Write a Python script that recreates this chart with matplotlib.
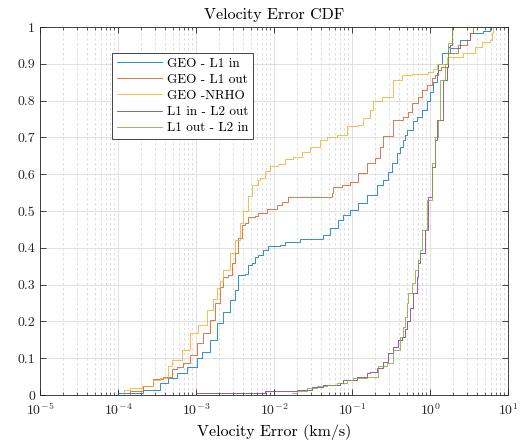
import matplotlib
matplotlib.use("Agg")
import matplotlib.pyplot as plt
from matplotlib.ticker import LogLocator, MultipleLocator

labels = ["GEO - L1 in", "GEO - L1 out", "GEO -NRHO", "L1 in - L2 out", "L1 out - L2 in"]

geo_l1in_x = [9.7e-5, 1.0e-4, 2.09e-4, 3.45e-4, 4.38e-4, 5.70e-4, 7.67e-4, 1.03e-3, 1.19e-3,
              1.51e-3, 1.86e-3, 2.22e-3, 2.73e-3, 3.16e-3, 3.45e-3, 4.25e-3, 4.65e-3, 5.22e-3,
              5.71e-3, 6.24e-3, 7.23e-3, 8.38e-3, 1.19e-2, 1.38e-2, 2.15e-2, 4.25e-2, 5.22e-2,
              6.62e-2, 7.67e-2, 9.42e-2, 0.119, 0.156, 0.209, 0.250, 0.290, 0.326, 0.378,
              0.412, 0.451, 0.478, 0.507, 0.605, 0.681, 0.789, 0.915, 1.0, 1.09, 1.23, 1.27,
              1.43, 1.80, 2.42, 3.26, 4.78, 5.87]
geo_l1in_y = [0.0, 0.005, 0.013, 0.033, 0.046, 0.060, 0.076, 0.100, 0.117,
              0.150, 0.196, 0.226, 0.258, 0.285, 0.326, 0.330, 0.353, 0.360,
              0.375, 0.380, 0.394, 0.405, 0.408, 0.416, 0.424, 0.435, 0.454,
              0.476, 0.489, 0.503, 0.522, 0.543, 0.571, 0.584, 0.606, 0.630, 0.658,
              0.674, 0.693, 0.707, 0.720, 0.745, 0.755, 0.774, 0.800, 0.823, 0.850, 0.875, 0.900,
              0.930, 0.943, 0.965, 0.984, 0.990, 1.0]

geo_l1out_x = [1.12e-4, 1.43e-4, 2.09e-4, 2.81e-4, 3.78e-4, 4.92e-4, 5.70e-4, 6.81e-4, 8.38e-4,
               1.03e-3, 1.23e-3, 1.51e-3, 1.75e-3, 2.03e-3, 2.22e-3, 2.57e-3, 2.90e-3, 3.16e-3,
               3.45e-3, 3.89e-3, 4.25e-3, 4.65e-3, 5.71e-3, 6.24e-3, 8.13e-3, 1.09e-2, 1.27e-2,
               1.51e-2, 5.54e-2, 5.71e-2, 7.45e-2, 9.42e-2, 0.119, 0.156, 0.197, 0.229, 0.250,
               0.336, 0.451, 0.522, 0.588, 0.702, 0.789, 0.915, 1.06, 1.16, 1.27, 1.40, 1.70,
               2.29, 2.98, 3.26, 3.56]
geo_l1out_y = [0.0, 0.010, 0.024, 0.043, 0.049, 0.070, 0.076, 0.087, 0.109,
               0.140, 0.168, 0.204, 0.250, 0.293, 0.320, 0.326, 0.360, 0.385,
               0.427, 0.462, 0.467, 0.484, 0.486, 0.494, 0.505, 0.516, 0.525,
               0.537, 0.549, 0.566, 0.570, 0.579, 0.603, 0.630, 0.644, 0.674, 0.705,
               0.747, 0.755, 0.769, 0.793, 0.810, 0.829, 0.842, 0.861, 0.870, 0.883, 0.890, 0.930,
               0.950, 0.965, 0.984, 1.0]

geo_nrho_x = [1.05e-4, 1.2e-4, 1.43e-4, 2.01e-4, 2.81e-4, 3.45e-4, 4.38e-4, 4.92e-4, 6.62e-4,
              8.38e-4, 1.06e-3, 1.38e-3, 1.65e-3, 1.84e-3, 2.03e-3, 2.22e-3, 2.73e-3, 3.16e-3,
              3.66e-3, 4.01e-3, 4.65e-3, 5.22e-3, 6.24e-3, 6.62e-3, 7.67e-3, 8.88e-3, 1.12e-2,
              1.38e-2, 1.75e-2, 2.29e-2, 2.90e-2, 3.89e-2, 4.78e-2, 6.42e-2, 8.63e-2, 0.119,
              0.138, 0.170, 0.186, 0.243, 0.336, 0.438, 0.588, 0.942, 1.09, 1.23, 1.65, 2.65,
              3.78, 4.64, 5.87, 6.23, 6.42]
geo_nrho_y = [0.0, 0.014, 0.019, 0.024, 0.040, 0.046, 0.080, 0.095, 0.122,
              0.168, 0.190, 0.230, 0.260, 0.290, 0.310, 0.340, 0.385, 0.420,
              0.467, 0.500, 0.540, 0.570, 0.584, 0.590, 0.610, 0.622, 0.628,
              0.640, 0.647, 0.660, 0.674, 0.693, 0.700, 0.707, 0.730, 0.734,
              0.753, 0.774, 0.800, 0.810, 0.856, 0.870, 0.872, 0.878, 0.886, 0.900, 0.918, 0.930,
              0.946, 0.960, 0.965, 0.984, 1.0]

l1in_l2out_x = [1.0e-3, 7.67e-3, 1.97e-2, 3.07e-2, 4.25e-2, 7.02e-2, 7.67e-2, 0.116, 0.156,
                0.170, 0.209, 0.250, 0.290, 0.336, 0.389, 0.438, 0.478, 0.507, 0.554, 0.605,
                0.681, 0.702, 0.744, 0.863, 0.942, 1.06, 1.16, 1.23, 1.47, 1.65, 1.70, 1.80, 1.91]
l1in_l2out_y = [0.006, 0.012, 0.014, 0.022, 0.027, 0.033, 0.040, 0.049, 0.060,
                0.063, 0.073, 0.090, 0.114, 0.130, 0.150, 0.158, 0.180, 0.200, 0.236, 0.277,
                0.320, 0.360, 0.386, 0.448, 0.538, 0.620, 0.693, 0.747, 0.856, 0.890, 0.946, 0.950, 1.0]

l1out_l2in_x = [1.70e-2, 1.97e-2, 2.65e-2, 3.56e-2, 4.78e-2, 6.42e-2, 8.63e-2, 0.103, 0.156,
                0.215, 0.281, 0.336, 0.412, 0.451, 0.478, 0.507, 0.522, 0.588, 0.642, 0.702,
                0.744, 0.789, 0.915, 1.06, 1.16, 1.27, 1.34, 1.56, 1.70, 1.91]
l1out_l2in_y = [0.005, 0.011, 0.019, 0.024, 0.027, 0.033, 0.040, 0.046, 0.050,
                0.080, 0.087, 0.122, 0.158, 0.185, 0.212, 0.250, 0.277, 0.304, 0.340, 0.367,
                0.394, 0.448, 0.530, 0.630, 0.700, 0.747, 0.856, 0.900, 0.957, 1.0]

series_x = [geo_l1in_x, geo_l1out_x, geo_nrho_x, l1in_l2out_x, l1out_l2in_x]
series_y = [geo_l1in_y, geo_l1out_y, geo_nrho_y, l1in_l2out_y, l1out_l2in_y]

# MATLAB default line colours
colors = ["#0072BD", "#D95319", "#EDB120", "#7E2F8E", "#77AC30"]

plt.rcParams['font.family'] = 'serif'
plt.rcParams['font.serif'] = ['cmr10', 'DejaVu Serif']
plt.rcParams['mathtext.fontset'] = 'cm'
plt.rcParams['axes.formatter.use_mathtext'] = True

fig = plt.figure(figsize=(5.21, 4.42), dpi=100)
ax = fig.add_axes([40 / 521, 47 / 442, 468 / 521, 368 / 442])

for xs, ys, c, lab in zip(series_x, series_y, colors, labels):
    ax.plot(xs, ys, drawstyle='steps-post', color=c, lw=0.7, alpha=0.8, label=lab)

ax.set_xscale('log')
ax.set_xlim(1e-5, 10)
ax.set_ylim(0, 1)
ax.xaxis.set_major_locator(LogLocator(base=10, numticks=10))
ax.xaxis.set_minor_locator(LogLocator(base=10, subs=range(2, 10), numticks=100))
ax.set_yticks([0, 0.1, 0.2, 0.3, 0.4, 0.5, 0.6, 0.7, 0.8, 0.9, 1])
ax.set_yticklabels(['0', '0.1', '0.2', '0.3', '0.4', '0.5', '0.6', '0.7', '0.8', '0.9', '1'])

ax.grid(True, which='major', color='#dcdcdc', lw=0.6, ls='-')
ax.grid(True, which='minor', axis='x', color='#d8d8d8', lw=0.6, ls=(0, (3, 3)))
ax.set_axisbelow(True)

ax.tick_params(which='both', direction='in', top=True, right=True, labelsize=10, colors='#262626')
ax.tick_params(which='major', length=4, width=0.6)
ax.tick_params(which='minor', length=2, width=0.5)
ax.tick_params(axis='x', which='major', pad=5)
for s in ax.spines.values():
    s.set_color('#262626')
    s.set_linewidth(0.6)

ax.set_title('Velocity Error CDF', fontsize=11.5, pad=6)
ax.set_xlabel('Velocity Error (km/s)', fontsize=11.5, labelpad=4)

leg = ax.legend(loc='upper left', bbox_to_anchor=(0.154, 0.93), fontsize=9.5,
                fancybox=False, edgecolor='#262626', framealpha=1, handlelength=3.4,
                borderpad=0.35, labelspacing=0.3, handletextpad=0.4, borderaxespad=0)
leg.get_frame().set_linewidth(0.6)

fig.savefig('out.png', dpi=100)
